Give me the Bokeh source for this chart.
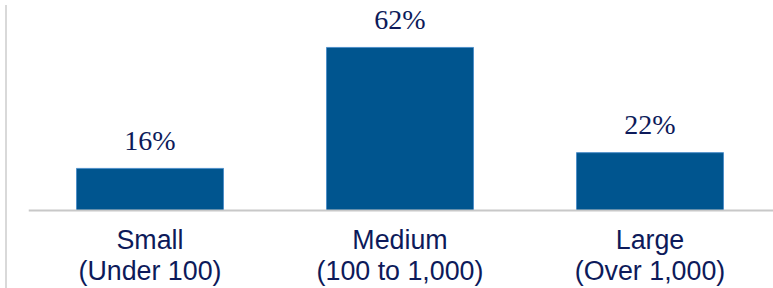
from bokeh.plotting import figure
from bokeh.models import Range1d, ColumnDataSource, Div, Span
from bokeh.layouts import row
from bokeh.embed import file_html
from bokeh.resources import INLINE
from bokeh.core.properties import value

categories = ["Small\n(Under 100)", "Medium\n(100 to 1,000)", "Large\n(Over 1,000)"]
shares = [16, 62, 22]
share_labels = ["16%", "62%", "22%"]

xs = [i + 0.5 for i in range(len(categories))]
src = ColumnDataSource(dict(x=xs, top=shares, lab=share_labels,
                            cat=categories, base=[0] * len(categories)))

H = 288
p = figure(width=763, height=H, output_backend="svg", toolbar_location=None,
           x_range=Range1d(0.014, 3.002), y_range=Range1d(-29.66, 79.85),
           min_border_left=16, min_border_right=0, min_border_top=0, min_border_bottom=0)
p.outline_line_color = None
p.grid.visible = False
p.xaxis.visible = False
p.yaxis.visible = False

p.vbar(x="x", top="top", width=0.588, source=src, fill_color="#00558f",
       line_color="#4f8fc8", line_width=1)
p.add_layout(Span(location=0, dimension="width", line_color="#c8c8c8", line_width=2))
p.text(x="x", y="top", text="lab", source=src, text_align="center",
       text_baseline="alphabetic", y_offset=-28,
       text_font=value("Liberation Serif"), text_font_size="28px", text_color="#0d1a5a")
p.text(x="x", y="base", text="cat", source=src, text_align="center",
       text_baseline="top", y_offset=15, text_line_height=1.02,
       text_font=value("Liberation Sans"), text_font_size="26.8px", text_color="#0d1a5a")

edge = Div(width=2, height=H, styles={"background-color": "#d9d9d9"})
layout = row(edge, p, spacing=0)

open("out.html", "w").write(file_html(layout, INLINE))
